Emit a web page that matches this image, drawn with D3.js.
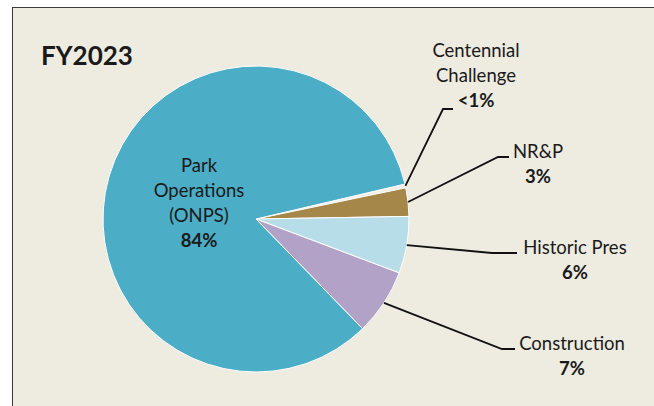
<!DOCTYPE html>
<html>
<head>
<meta charset="utf-8">
<script src="https://cdn.jsdelivr.net/npm/d3@7"></script>
<style>
  body { margin: 0; background: #fff; }
  text { font-family: Lato, "Open Sans", sans-serif; fill: #1a1a1a; }
</style>
</head>
<body>
<div id="container"></div>
<script>
// data
const categories = ["Centennial Challenge", "NR&P", "Historic Pres", "Construction", "Park Operations (ONPS)"];
const shares = [0.4, 3, 6, 7, 83.6];
const shareLabels = ["<1%", "3%", "6%", "7%", "84%"];
const nameLines = [["Centennial", "Challenge"], ["NR&P"], ["Historic Pres"], ["Construction"], ["Park", "Operations", "(ONPS)"]];
const colors = ["#f3efe4", "#a6874a", "#b6dde8", "#b3a2c8", "#4badc6"];

const W = 654, H = 406;
const cx = 256, cy = 219, r = 153;

const svg = d3.select("#container")
    .append("svg")
    .attr("width", W)
    .attr("height", H);

// panel background + border
svg.append("rect")
    .attr("x", 12.5).attr("y", 7.5)
    .attr("width", W).attr("height", H)
    .attr("fill", "#eeebe0")
    .attr("stroke", "#3a3a3a")
    .attr("stroke-width", 1);

svg.append("text")
    .attr("x", 41).attr("y", 65)
    .attr("font-size", 26)
    .attr("font-weight", "bold")
    .text("FY2023");

const rows = categories.map((c, i) => ({ name: c, value: shares[i], pct: shareLabels[i], lines: nameLines[i], color: colors[i] }));

const pie = d3.pie()
    .sort(null)
    .value(d => d.value)
    .startAngle(76.8 * Math.PI / 180)
    .endAngle((76.8 + 360) * Math.PI / 180);

const arc = d3.arc().innerRadius(0).outerRadius(r);
const edge = d3.arc().innerRadius(r).outerRadius(r);

const g = svg.append("g").attr("transform", "translate(" + cx + "," + cy + ")");
const arcs = pie(rows);

g.selectAll(".slice").data(arcs)
    .enter()
    .append("path")
    .attr("class", "slice")
    .attr("d", arc)
    .attr("fill", d => d.data.color)
    .attr("stroke", "#ffffff")
    .attr("stroke-width", 1);

// outside labels: elbow point, line end, text centre x, first baseline
const outside = [
    { elbow: [443, 109], end: [453, 109], tx: 476, ty: 57 },
    { elbow: [498, 157], end: [509, 157], tx: 538, ty: 158 },
    { elbow: [492, 253], end: [517, 253], tx: 575, ty: 254 },
    { elbow: [502, 349], end: [515, 349], tx: 572, ty: 350 }
];
const lineH = 25;

outside.forEach((o, i) => {
    const a = arcs[i];
    const p = edge.centroid(a);
    svg.append("polyline")
        .attr("points", [[p[0] + cx, p[1] + cy], o.elbow, o.end].map(q => q.join(",")).join(" "))
        .attr("fill", "none")
        .attr("stroke", "#111")
        .attr("stroke-width", 1.8);

    const t = svg.append("text")
        .attr("text-anchor", "middle")
        .attr("font-size", 18.5);
    a.data.lines.forEach((ln, k) => {
        t.append("tspan").attr("x", o.tx).attr("y", o.ty + k * lineH).text(ln);
    });
    t.append("tspan")
        .attr("x", o.tx)
        .attr("y", o.ty + a.data.lines.length * lineH)
        .attr("font-weight", "bold")
        .text(a.data.pct);
});

// inside label for the big slice
const big = arcs[4];
const it = svg.append("text")
    .attr("text-anchor", "middle")
    .attr("font-size", 18.5);
big.data.lines.forEach((ln, k) => {
    it.append("tspan").attr("x", 199).attr("y", 172 + k * lineH).text(ln);
});
it.append("tspan")
    .attr("x", 199)
    .attr("y", 172 + big.data.lines.length * lineH)
    .attr("font-weight", "bold")
    .text(big.data.pct);
</script>
</body>
</html>
